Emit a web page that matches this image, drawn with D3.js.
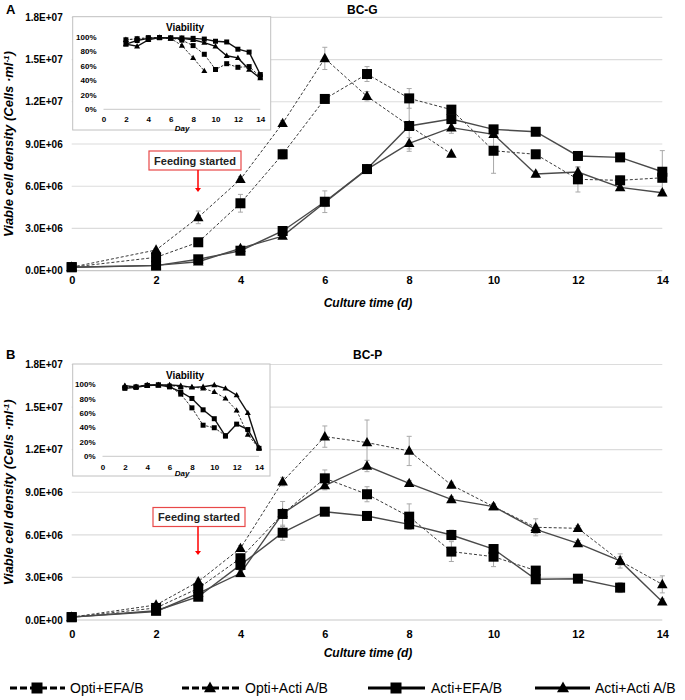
<!DOCTYPE html>
<html><head><meta charset="utf-8">
<script src="https://cdn.jsdelivr.net/npm/d3@7"></script>
<style>body{margin:0;background:#fff}</style>
</head><body>
<script>
// ---------- DATA ----------
const days = [0,2,3,4,5,6,7,8,9,10,11,12,13,14];
const vDays = [2,3,4,5,6,7,8,9,10,11,12,13,14];
const yTickValues = [0,3e6,6e6,9e6,12e6,15e6,18e6];
const yTickLabels = ["0.0E+00","3.0E+06","6.0E+06","9.0E+06","1.2E+07","1.5E+07","1.8E+07"];
const xTickValues = [0,2,4,6,8,10,12,14];
const vTickValues = [0,20,40,60,80,100];
const vTickLabels = ["0%","20%","40%","60%","80%","100%"];
const seriesNames = ["Opti+EFA/B","Opti+Acti A/B","Acti+EFA/B","Acti+Acti A/B"];

// Panel A (BC-G), viable cell density x1e6
const aOptiEFA  = [0.25,0.95,2.02,4.79,8.27,12.2,13.97,12.24,11.44,8.52,8.27,6.49,6.42,6.6];
const aOptiActi = [0.25,1.47,3.79,6.49,10.47,15.08,12.39,10.3,8.29];
const aActiEFA  = [0.25,0.36,0.81,1.42,2.82,4.9,7.22,10.28,10.77,10.04,9.87,8.15,8.05,7.03];
const aActiActi = [0.25,0.38,0.64,1.59,2.46,4.85,7.2,9.05,10.16,9.69,6.87,7.01,5.92,5.54];
const aOptiEFAErr  = [0,0,0,0.63,0.35,0.3,0.53,0.7,0.3,1.6,0.2,0.9,0.3,0.3];
const aOptiActiErr = [0,0.1,0.45,0.2,0.2,0.79,0.33,0,0];
const aActiEFAErr  = [0,0,0.1,0.15,0.2,0.77,0.3,1.8,0.2,0.2,0.2,0.3,0.2,1.5];
const aActiActiErr = [0,0,0,0.1,0.15,0.3,0.2,0.4,0.4,0.2,0.2,0.3,0.2,0.2];
// Panel A viability %
const vaOptiEFA  = [96,97.5,99,99,98.5,95.5,88,76,55,63,58,59,45];
const vaOptiActi = [96,97,98,99,98,88,71,53];
const vaActiEFA  = [90,95,98,99,98.5,98.5,98,97,94,93,83,79,48];
const vaActiActi = [90,87,96,99,98,98,96,92,87,74,71,55,43];

// Panel B (BC-P)
const bOptiEFA  = [0.2,0.85,2.23,4.35,7.47,9.98,8.86,7.28,4.82,4.46,3.48];
const bOptiActi = [0.2,1.06,2.7,5.05,9.75,12.92,12.5,11.91,9.51,7.99,6.53,6.46,4.16,2.51];
const bActiEFA  = [0.2,0.65,1.64,3.88,6.15,7.63,7.33,6.74,5.99,5.0,2.87,2.91,2.28];
const bActiActi = [0.2,0.6,1.88,3.29,7.5,9.47,10.85,9.63,8.5,7.99,6.39,5.4,4.16,1.29];
const bOptiEFAErr  = [0,0.1,0.2,0.3,0.88,0.59,0.53,0.9,0.7,0.7,0.2];
const bOptiActiErr = [0,0.1,0.2,0.2,0.3,0.75,1.59,1.03,0.2,0.2,0.6,0.2,0.5,0.6];
const bActiEFAErr  = [0,0.1,0.1,0.2,0.53,0.2,0.2,0.3,0.35,0.3,0.3,0.2,0.35];
const bActiActiErr = [0,0,0.1,0.2,0.3,0.3,0.4,0.2,0.2,0.2,0.3,0.2,0.3,0.2];
// Panel B viability %
const vbOptiEFA  = [95,96,98,98.6,97,86,67,43,39.5,28.5];
const vbOptiActi = [97,96,98,98.6,98,96,96,94,89,80,63.4,30,11];
const vbActiEFA  = [94,95.3,98,98.6,96,89,80,64.3,52,28,44.5,37,11];
const vbActiActi = [97.7,96,98.6,98.6,98.6,97.7,95.3,96.2,98.6,93.9,84.5,60,12];

// ---------- DRAW ----------
const FONT = "'Liberation Sans', Arial, sans-serif";
const svg = d3.select("body").append("svg").attr("width",685).attr("height",700)
  .style("font-family",FONT);

function markerPath(type, s){
  if(type==="square") return `M${-s/2},${-s/2}h${s}v${s}h${-s}Z`;
  const h = s*0.9;
  return `M0,${-h*0.6}L${s/2},${h*0.4}L${-s/2},${h*0.4}Z`;
}

const styles = [
  {dashed:true, marker:"square"},
  {dashed:true, marker:"triangle"},
  {dashed:false, marker:"square"},
  {dashed:false, marker:"triangle"}
];

function drawPanel(p){
  const g = svg.append("g");
  const x = d3.scaleLinear().domain([0,14]).range([71.7,662.3]);
  const y = d3.scaleLinear().domain([0,18e6]).range([p.y0,p.y1]);
  // gridlines
  g.selectAll(".grid").data(yTickValues).join("line")
    .attr("x1",x(0)).attr("x2",x(14)).attr("y1",d=>y(d)).attr("y2",d=>y(d))
    .attr("stroke",(d)=>d===0?"#c8c8c8":"#dcdcdc").attr("stroke-width",1.2);
  // axes
  const ya = g.append("g").attr("transform",`translate(${x(0)},0)`)
    .call(d3.axisLeft(y).tickValues(yTickValues).tickFormat((d,i)=>yTickLabels[i]).tickSize(0).tickPadding(9));
  ya.select(".domain").remove();
  ya.selectAll("text").attr("font-family",FONT).attr("font-weight","bold").attr("font-size",10).attr("fill","#000");
  const xa = g.append("g").attr("transform",`translate(0,${y(0)})`)
    .call(d3.axisBottom(x).tickValues(xTickValues).tickFormat(d3.format("d")).tickSize(0).tickPadding(p.xPad));
  xa.select(".domain").remove();
  xa.selectAll("text").attr("font-family",FONT).attr("font-weight","bold").attr("font-size",11).attr("fill","#000");
  // titles
  g.append("text").attr("x",6).attr("y",p.letterY).text(p.letter)
    .attr("font-weight","bold").attr("font-size",13);
  g.append("text").attr("x",p.titleX).attr("y",p.letterY).text(p.title)
    .attr("font-weight","bold").attr("font-size",12);
  g.append("text").attr("x",368).attr("y",p.xTitleY).attr("text-anchor","middle")
    .attr("font-weight","bold").attr("font-style","italic").attr("font-size",12).text("Culture time (d)");
  const yt = g.append("text").attr("transform",`translate(13,${(p.y0+p.y1)/2}) rotate(-90)`)
    .attr("text-anchor","middle").attr("font-weight","bold").attr("font-style","italic").attr("font-size",13);
  yt.append("tspan").text("Viable cell density (Cells ·ml");
  yt.append("tspan").attr("dy",-4).attr("font-size",8).text("-1");
  yt.append("tspan").attr("dy",4).text(")");

  // inset
  const ins = p.inset;
  g.append("rect").attr("x",ins.bx).attr("y",ins.by).attr("width",ins.bw).attr("height",ins.bh)
    .attr("fill","#fff").attr("stroke","#c0c0c0").attr("stroke-width",1);
  const ix = d3.scaleLinear().domain([0,14]).range([ins.x0,ins.x1]);
  const iy = d3.scaleLinear().domain([0,100]).range([ins.y0,ins.y1]);
  g.append("line").attr("x1",ix(0)).attr("x2",ix(14)).attr("y1",iy(0)).attr("y2",iy(0)).attr("stroke","#c8c8c8");
  const iya = g.append("g").attr("transform",`translate(${ix(0)},0)`)
    .call(d3.axisLeft(iy).tickValues(vTickValues).tickFormat((d,i)=>vTickLabels[i]).tickSize(0).tickPadding(7));
  iya.select(".domain").remove();
  iya.selectAll("text").attr("font-family",FONT).attr("font-weight","bold").attr("font-size",8).attr("fill","#000");
  const ixa = g.append("g").attr("transform",`translate(0,${iy(0)})`)
    .call(d3.axisBottom(ix).tickValues(xTickValues).tickFormat(d3.format("d")).tickSize(0).tickPadding(ins.xPad));
  ixa.select(".domain").remove();
  ixa.selectAll("text").attr("font-family",FONT).attr("font-weight","bold").attr("font-size",8).attr("fill","#000");
  g.append("text").attr("x",185).attr("y",ins.titleY).attr("text-anchor","middle")
    .attr("font-weight","bold").attr("font-size",10).text("Viability");
  g.append("text").attr("x",182).attr("y",ins.dayY).attr("text-anchor","middle")
    .attr("font-weight","bold").attr("font-style","italic").attr("font-size",8).text("Day");

  p.viab.forEach((vals,si)=>{
    const st = styles[si];
    const pts = vals.map((v,i)=>[vDays[i],v]);
    g.append("path").attr("d",d3.line().x(d=>ix(d[0])).y(d=>iy(d[1]))(pts))
      .attr("fill","none").attr("stroke",st.dashed?"#333":"#111").attr("stroke-width",st.dashed?1:1.4)
      .attr("stroke-dasharray",st.dashed?"2.5,1.5":null);
    g.selectAll(null).data(pts).join("path")
      .attr("transform",d=>`translate(${ix(d[0])},${iy(d[1])})`)
      .attr("d",markerPath(st.marker, st.marker==="square"?5:6)).attr("fill","#000");
  });

  // feeding started annotation
  const fb = p.feed;
  g.append("rect").attr("x",fb.x).attr("y",fb.y).attr("width",92).attr("height",19)
    .attr("fill","#fff").attr("stroke","#e84848").attr("stroke-width",1.2);
  g.append("text").attr("x",fb.x+46).attr("y",fb.y+13.5).attr("text-anchor","middle")
    .attr("font-weight","bold").attr("font-size",11).attr("fill","#222").text("Feeding started");
  g.append("line").attr("x1",198).attr("x2",198).attr("y1",fb.y+19).attr("y2",fb.arrowY-3)
    .attr("stroke","#ff0000").attr("stroke-width",1.5);
  g.append("path").attr("d",`M195,${fb.arrowY-4}L201,${fb.arrowY-4}L198,${fb.arrowY}Z`).attr("fill","#ff0000");

  // data series
  p.series.forEach((vals,si)=>{
    const errs = p.errs[si];
    const pts = vals.map((v,i)=>({d:days[i], v:v*1e6, e:errs[i]*1e6}));
    const eg = g.append("g").attr("stroke","#a8a8a8").attr("stroke-width",1);
    pts.filter(d=>d.e>0).forEach(d=>{
      eg.append("line").attr("x1",x(d.d)).attr("x2",x(d.d)).attr("y1",y(d.v-d.e)).attr("y2",y(d.v+d.e));
      eg.append("line").attr("x1",x(d.d)-2.5).attr("x2",x(d.d)+2.5).attr("y1",y(d.v-d.e)).attr("y2",y(d.v-d.e));
      eg.append("line").attr("x1",x(d.d)-2.5).attr("x2",x(d.d)+2.5).attr("y1",y(d.v+d.e)).attr("y2",y(d.v+d.e));
    });
  });
  p.series.forEach((vals,si)=>{
    const st = styles[si];
    const pts = vals.map((v,i)=>[days[i],v*1e6]);
    g.append("path").attr("d",d3.line().x(d=>x(d[0])).y(d=>y(d[1]))(pts))
      .attr("fill","none").attr("stroke",st.dashed?"#3a3a3a":"#4a4a4a")
      .attr("stroke-width",st.dashed?1:1.4).attr("stroke-dasharray",st.dashed?"3,2":null);
  });
  p.series.forEach((vals,si)=>{
    const st = styles[si];
    const pts = vals.map((v,i)=>[days[i],v*1e6]);
    g.selectAll(null).data(pts).join("path")
      .attr("transform",d=>`translate(${x(d[0])},${y(d[1])})`)
      .attr("d",markerPath(st.marker, st.marker==="square"?10:10.5)).attr("fill","#000");
  });
}

drawPanel({
  letter:"A", title:"BC-G", titleX:347, letterY:14, y0:270.7, y1:17.3, xPad:6, xTitleY:307,
  series:[aOptiEFA,aOptiActi,aActiEFA,aActiActi],
  errs:[aOptiEFAErr,aOptiActiErr,aActiEFAErr,aActiActiErr],
  viab:[vaOptiEFA,vaOptiActi,vaActiEFA,vaActiActi],
  inset:{bx:72.7,by:16.7,bw:198,bh:113.3,x0:103.5,x1:260.3,y0:109.3,y1:36.9,xPad:7,titleY:30.5,dayY:131},
  feed:{x:149,y:151,arrowY:192}
});
drawPanel({
  letter:"B", title:"BC-P", titleX:353, letterY:359, y0:620, y1:364.5, xPad:10, xTitleY:657,
  series:[bOptiEFA,bOptiActi,bActiEFA,bActiActi],
  errs:[bOptiEFAErr,bOptiActiErr,bActiEFAErr,bActiActiErr],
  viab:[vbOptiEFA,vbOptiActi,vbActiEFA,vbActiActi],
  inset:{bx:72.7,by:364,bw:197.3,bh:112,x0:102.5,x1:259,y0:456.3,y1:384,xPad:8,titleY:378.5,dayY:476},
  feed:{x:153,y:507.5,arrowY:555}
});

// legend
const legendItems = [
  {x1:10,x2:65,mx:37,tx:70},
  {x1:182,x2:239,mx:210,tx:245},
  {x1:368,x2:425,mx:396,tx:431},
  {x1:535,x2:590,mx:563,tx:595}
];
const lg = svg.append("g");
legendItems.forEach((it,i)=>{
  const st = styles[i];
  lg.append("line").attr("x1",it.x1).attr("x2",it.x2).attr("y1",688).attr("y2",688)
    .attr("stroke","#000").attr("stroke-width",3).attr("stroke-dasharray",st.dashed?"7,3":null);
  lg.append("path").attr("transform",`translate(${it.mx},${688})`)
    .attr("d",markerPath(st.marker, st.marker==="square"?11:12)).attr("fill","#000");
  lg.append("text").attr("x",it.tx).attr("y",693).attr("font-size",14).attr("fill","#000").text(seriesNames[i]);
});
</script>
</body></html>
